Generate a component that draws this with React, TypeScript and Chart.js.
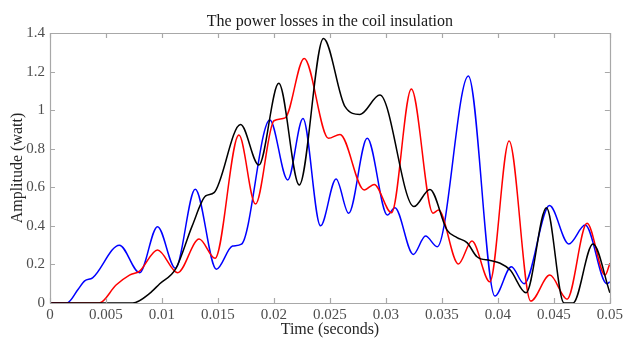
import React, { useEffect, useRef } from "react";
import { Chart, registerables } from "chart.js";

Chart.register(...registerables);

const titleText = "The power losses in the coil insulation";
const xTitle = "Time (seconds)";
const yTitle = "Amplitude (watt)";

const xTickValues = [0, 0.005, 0.01, 0.015, 0.02, 0.025, 0.03, 0.035, 0.04, 0.045, 0.05];
const xTickLabels = ["0", "0.005", "0.01", "0.015", "0.02", "0.025", "0.03", "0.035", "0.04", "0.045", "0.05"];
const yTickValues = [0, 0.2, 0.4, 0.6, 0.8, 1, 1.2, 1.4];
const yTickLabels = ["0", "0.2", "0.4", "0.6", "0.8", "1", "1.2", "1.4"];

const blueT = [0, 0.0015, 0.0025, 0.0031, 0.0038, 0.0062, 0.008, 0.0096, 0.0112, 0.01297, 0.01486, 0.0163, 0.0171, 0.01963, 0.02123, 0.02259, 0.02416, 0.02555, 0.02667, 0.02833, 0.03013, 0.0308, 0.03244, 0.03354, 0.03458, 0.03736, 0.03973, 0.0412, 0.04234, 0.04461, 0.04633, 0.0478, 0.04973, 0.05];
const blueV = [0, 0, 0.07, 0.115, 0.13, 0.3, 0.157, 0.396, 0.18, 0.59, 0.175, 0.295, 0.305, 0.949, 0.638, 0.957, 0.4, 0.643, 0.465, 0.854, 0.456, 0.494, 0.252, 0.347, 0.292, 1.177, 0.036, 0.188, 0.1, 0.505, 0.306, 0.404, 0.1, 0.11];

const redT = [0, 0.0044, 0.0059, 0.0071, 0.008, 0.0096, 0.0114, 0.01332, 0.01474, 0.01687, 0.01835, 0.02, 0.021, 0.0227, 0.02487, 0.0259, 0.02806, 0.02895, 0.0305, 0.03227, 0.0342, 0.0347, 0.03647, 0.03768, 0.03928, 0.041, 0.04293, 0.04464, 0.04618, 0.04796, 0.04958, 0.05];
const redV = [0, 0, 0.093, 0.145, 0.165, 0.275, 0.157, 0.332, 0.232, 0.871, 0.513, 0.945, 0.96, 1.268, 0.854, 0.874, 0.586, 0.615, 0.468, 1.109, 0.466, 0.482, 0.202, 0.321, 0.11, 0.84, 0.01, 0.145, 0.02, 0.413, 0.145, 0.206];

const blackT = [0, 0.0074, 0.0089, 0.0098, 0.01125, 0.0127, 0.0139, 0.01465, 0.01702, 0.01865, 0.02043, 0.02226, 0.02442, 0.02635, 0.02768, 0.02946, 0.0325, 0.03393, 0.03546, 0.03635, 0.03724, 0.03813, 0.03931, 0.0402, 0.0411, 0.04251, 0.04434, 0.0459, 0.04671, 0.04849, 0.05];
const blackV = [0, 0, 0.05, 0.1, 0.18, 0.4, 0.555, 0.572, 0.926, 0.715, 1.139, 0.612, 1.372, 1.018, 0.978, 1.078, 0.5, 0.589, 0.378, 0.339, 0.313, 0.24, 0.22, 0.206, 0.171, 0.053, 0.494, 0, 0, 0.306, 0.053];

const toPts = (t: number[], v: number[]) => t.map((x, i) => ({ x, y: v[i] }));

const boxPlugin = {
  id: "boxTicks",
  afterDraw(chart: any) {
    const { ctx, chartArea, scales } = chart;
    const { left, right, top, bottom } = chartArea;
    ctx.save();
    ctx.strokeStyle = "#a8a8a8";
    ctx.lineWidth = 1.2;
    ctx.beginPath();
    ctx.rect(Math.round(left) + 0.5, Math.round(top) + 0.5, Math.round(right - left), Math.round(bottom - top));
    ctx.stroke();
    const len = 5;
    ctx.beginPath();
    xTickValues.forEach((v) => {
      const x = Math.round(scales.x.getPixelForValue(v)) + 0.5;
      ctx.moveTo(x, bottom);
      ctx.lineTo(x, bottom - len);
      ctx.moveTo(x, top);
      ctx.lineTo(x, top + len);
    });
    yTickValues.forEach((v) => {
      const y = Math.round(scales.y.getPixelForValue(v)) + 0.5;
      ctx.moveTo(left, y);
      ctx.lineTo(left + len, y);
      ctx.moveTo(right, y);
      ctx.lineTo(right - len, y);
    });
    ctx.stroke();
    ctx.restore();
  },
};

export default function App() {
  const ref = useRef<HTMLCanvasElement>(null);
  useEffect(() => {
    if (!ref.current) return;
    const serif = "'Liberation Serif', 'Times New Roman', serif";
    const chart = new Chart(ref.current, {
      type: "line",
      data: {
        datasets: [
          { label: "black", data: toPts(blackT, blackV), borderColor: "#000000", borderWidth: 1.5, pointRadius: 0, cubicInterpolationMode: "monotone", fill: false },
          { label: "red", data: toPts(redT, redV), borderColor: "#ff0000", borderWidth: 1.5, pointRadius: 0, cubicInterpolationMode: "monotone", fill: false },
          { label: "blue", data: toPts(blueT, blueV), borderColor: "#0000ff", borderWidth: 1.5, pointRadius: 0, cubicInterpolationMode: "monotone", fill: false },
        ],
      },
      options: {
        animation: false,
        responsive: false,
        maintainAspectRatio: false,
        layout: { padding: { left: 0, right: 13, top: 0, bottom: 0 } },
        plugins: {
          legend: { display: false },
          tooltip: { enabled: false },
          title: {
            display: true,
            fullSize: false,
            text: titleText,
            color: "#1a1a1a",
            font: { family: serif, size: 16, weight: "normal", lineHeight: 1.2 },
            padding: { top: 12, bottom: 1.8 },
          },
        },
        scales: {
          x: {
            type: "linear",
            min: 0,
            max: 0.05,
            afterBuildTicks: (s: any) => {
              s.ticks = xTickValues.map((v) => ({ value: v }));
            },
            afterFit: (s: any) => {
              s.height = 35;
            },
            ticks: {
              autoSkip: false,
              maxRotation: 0,
              padding: 3,
              color: "#4d4d4d",
              font: { family: serif, size: 15 },
              callback: (v: any) => {
                const i = xTickValues.findIndex((t) => Math.abs(t - v) < 1e-9);
                return i >= 0 ? xTickLabels[i] : "";
              },
            },
            grid: { display: false, drawTicks: false },
            border: { display: false },
            title: {
              display: true,
              text: xTitle,
              color: "#262626",
              font: { family: serif, size: 16, lineHeight: 1.0 },
              padding: { top: 0, bottom: 0 },
            },
          },
          y: {
            type: "linear",
            min: 0,
            max: 1.4,
            afterBuildTicks: (s: any) => {
              s.ticks = yTickValues.map((v) => ({ value: v }));
            },
            afterFit: (s: any) => {
              s.width = 50;
            },
            ticks: {
              autoSkip: false,
              padding: 5,
              color: "#4d4d4d",
              font: { family: serif, size: 15 },
              callback: (v: any) => {
                const i = yTickValues.findIndex((t) => Math.abs(t - v) < 1e-9);
                return i >= 0 ? yTickLabels[i] : "";
              },
            },
            grid: { display: false, drawTicks: false },
            border: { display: false },
            title: {
              display: true,
              text: yTitle,
              color: "#262626",
              font: { family: serif, size: 16, lineHeight: 1.2 },
              padding: { top: 8, bottom: 0 },
            },
          },
        },
      },
      plugins: [boxPlugin],
    } as any);
    return () => chart.destroy();
  }, []);
  return (
    <div style={{ position: "fixed", left: 0, top: 0, width: 626, height: 338, background: "#fff" }}>
      <canvas ref={ref} width={626} height={338} style={{ width: 626, height: 338, display: "block" }} />
    </div>
  );
}
